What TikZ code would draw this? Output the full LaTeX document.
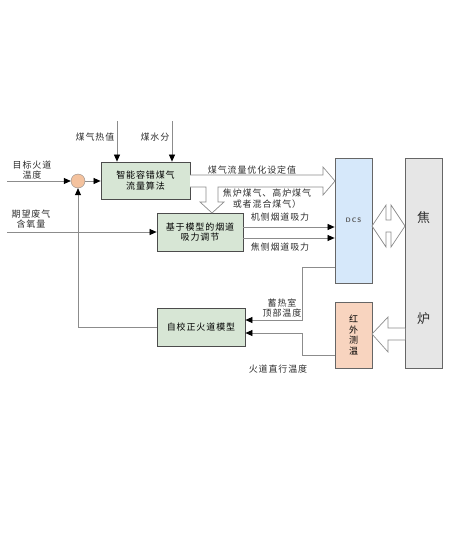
\documentclass[tikz,border=0pt]{standalone}
\usepackage{fontspec}
\usepackage{tikz}
\usetikzlibrary{positioning, arrows.meta}
\newfontfamily\cjk[LetterSpace=10]{Noto Sans CJK SC}
\definecolor{lineg}{HTML}{8C8C8C}
\definecolor{boxg}{HTML}{D7E6D5}
\definecolor{dcsb}{HTML}{D6E8FA}
\definecolor{luhui}{HTML}{E6E6E6}
\definecolor{hongf}{HTML}{F8D4BF}
\definecolor{sumf}{HTML}{F4C29E}
\definecolor{txtc}{HTML}{2E2E2E}
\tikzset{
    blk/.style={draw=black!70, fill=boxg, line width=0.8pt, align=center, inner sep=1pt},
    lbl/.style={text=txtc, align=center, inner sep=0pt},
    arr/.style={draw=lineg, line width=0.7pt, -{Triangle[length=7pt, width=6pt, black]}},
    hollow/.style={draw=lineg, fill=white, line width=0.7pt, line join=miter}
}

\begin{document}
\begin{tikzpicture}[x=1pt, y=-1pt, font=\cjk\fontsize{9}{10.5}\selectfont]
    \useasboundingbox (0,0) rectangle (450,557);

    % Define the blocks
    \node[blk, minimum width=89, minimum height=37] (suanfa) at (145.5,180.5) {智能容错煤气\\流量算法};
    \node[blk, minimum width=86, minimum height=38] (tiaojie) at (200,232) {基于模型的烟道\\吸力调节};
    \node[blk, minimum width=88, minimum height=38] (moxing) at (201,327) {自校正火道模型};

    % DCS, coke oven and infrared
    \node[draw=black!60, fill=dcsb, line width=0.8pt, minimum width=37, minimum height=125,
          font=\sffamily\bfseries\fontsize{6.5}{8}\selectfont, text=black!65] (dcs) at (353.5,220.5) {D\,C\,S};
    \node[draw=black!60, fill=luhui, line width=0.8pt, minimum width=37, minimum height=210] (jiaolu) at (423.5,263) {};
    \node[lbl, font=\cjk\fontsize{13}{15}\selectfont] (jiao) at (423.5,218) {焦};
    \node[lbl, font=\cjk\fontsize{13}{15}\selectfont] (lu) at (423.5,319) {炉};
    \node[draw=black!60, fill=hongf, line width=0.8pt, minimum width=37, minimum height=66, align=center,
          font=\cjk\fontsize{9}{10.7}\selectfont] (hongwai) at (353.5,335) {红\\外\\测\\温};

    % Summing point
    \node[draw=lineg, fill=sumf, circle, minimum size=14, inner sep=0pt] (sum) at (78,181) {};

    % Free ends
    \coordinate (rz) at (117,121);
    \coordinate (sf) at (172,121);
    \coordinate (mubiao) at (7,181);
    \coordinate (qiwang) at (7,232);

    % Labels
    \node[lbl] (l_rezhi) at (95,137) {煤气热值};
    \node[lbl] (l_shuifen) at (155,137) {煤水分};
    \node[lbl] (l_mubiao) at (32,170) {目标火道\\温度};
    \node[lbl] (l_qiwang) at (31,219) {期望废气\\含氧量};
    \node[lbl] (l_youhua) at (252,170) {煤气流量优化设定值};
    \node[lbl] (l_meiqi) at (267,198.5) {焦炉煤气、高炉煤气\\或者混合煤气）};
    \node[lbl] (l_jice) at (280,217) {机侧烟道吸力};
    \node[lbl] (l_jiaoce) at (280,247) {焦侧烟道吸力};
    \node[lbl] (l_xure) at (282,308) {蓄热室\\顶部温度};
    \node[lbl] (l_huodao) at (278,369) {火道直行温度};

    % Draw the Edges
    \draw[arr] (rz) -- (rz |- suanfa.north);
    \draw[arr] (sf) -- (sf |- suanfa.north);
    \draw[arr] (mubiao) -- (sum);
    \draw[arr] (sum) -- (sum -| suanfa.west);
    \draw[arr] (qiwang) -- (qiwang -| tiaojie.west);
    \draw[arr] (moxing.west) -| (sum.south);

    \draw[arr] ([yshift=5pt]tiaojie.east) -- ([yshift=5pt]tiaojie.east -| dcs.west);
    \draw[arr] ([yshift=-6pt]tiaojie.east) -- ([yshift=-6pt]tiaojie.east -| dcs.west);

    \draw[arr] ([yshift=-46.5pt]dcs.west) -- ++(-32,0) |- ([yshift=7pt]moxing.east);
    \draw[arr] ([yshift=-20pt]hongwai.west) -- ++(-32,0) |- ([yshift=-6pt]moxing.east);

    % Hollow arrows
    \draw[hollow] (190,175) -- (323,175) -- (323,167) -- (335,181) -- (323,195) -- (323,187)
        -- (218,187) -- (218,202) -- (224,202) -- (212,213) -- (200,202) -- (206,202) -- (206,187) -- (190,187);
    \draw[hollow] (372,226) -- (386,205) -- (386,220) -- (391,220) -- (391,205) -- (405,226)
        -- (391,247) -- (391,232) -- (386,232) -- (386,247) -- cycle;
    \draw[hollow] (405,328) -- (388,328) -- (388,317) -- (372,334) -- (388,352) -- (388,340) -- (405,340);
\end{tikzpicture}
\end{document}
